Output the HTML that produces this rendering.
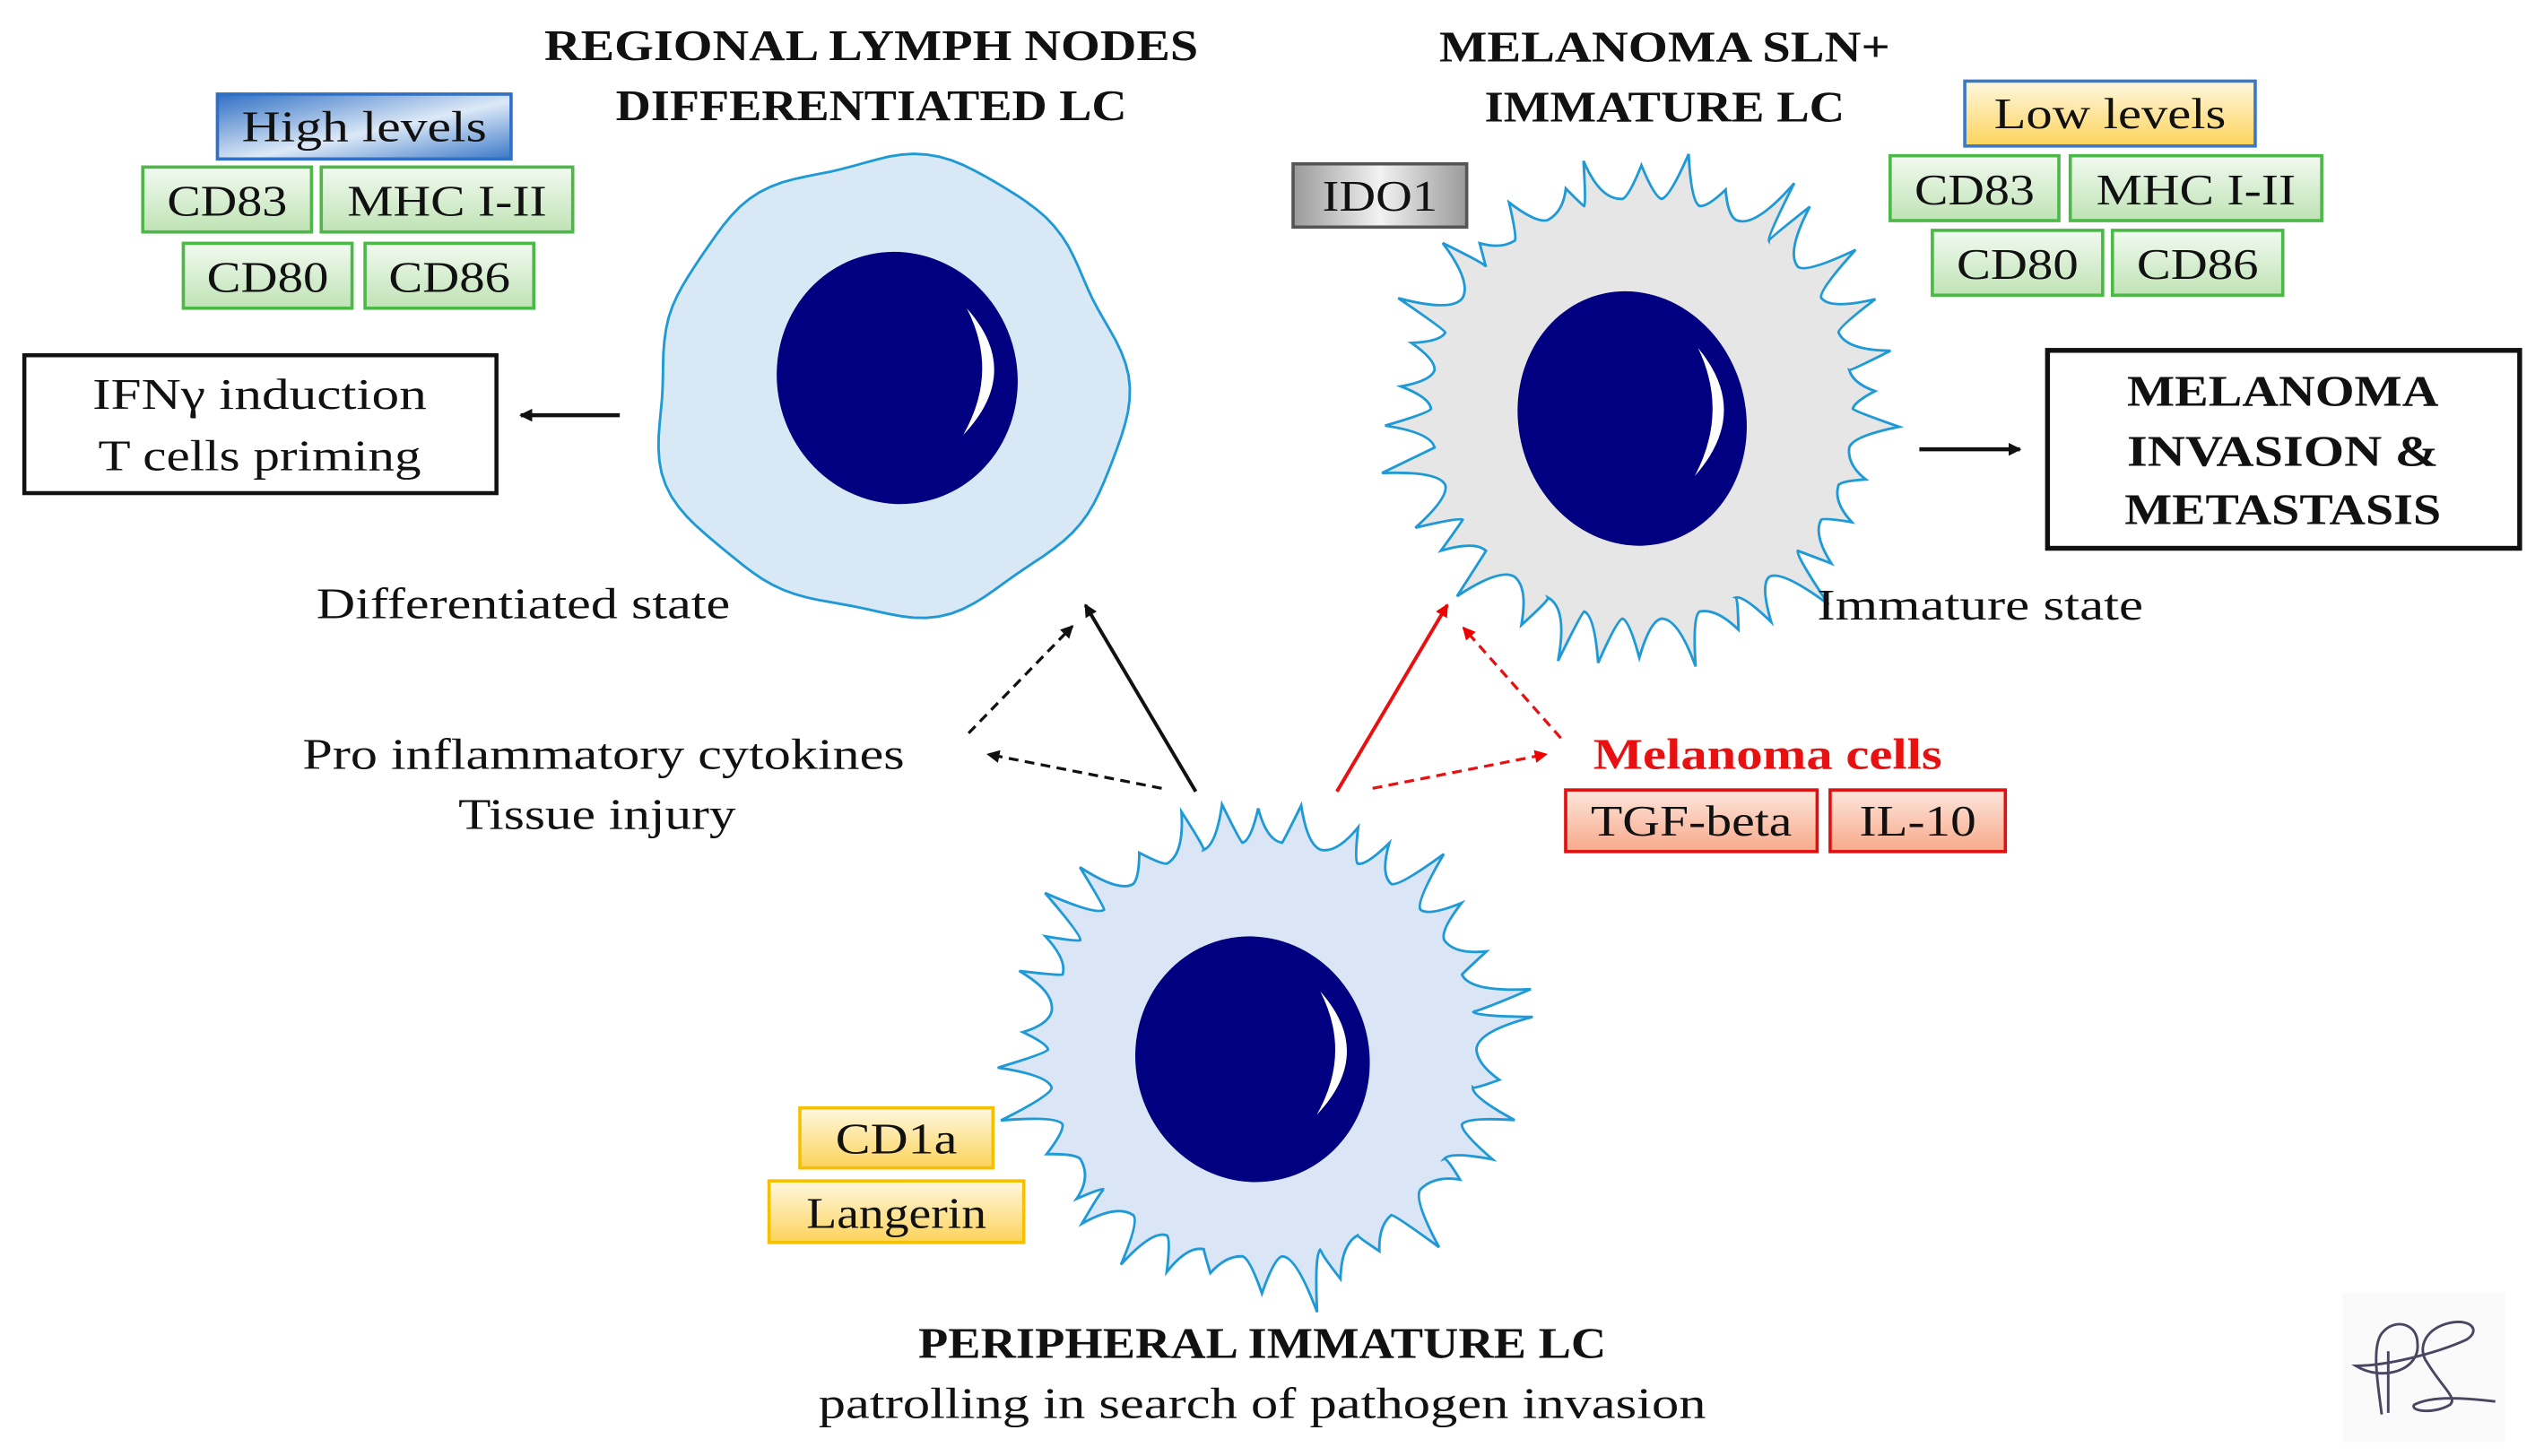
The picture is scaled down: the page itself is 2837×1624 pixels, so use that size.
<!DOCTYPE html>
<html><head><meta charset="utf-8">
<style>
html,body{margin:0;padding:0;background:#fff;}
svg{display:block;}
text{font-family:"Liberation Serif",serif;fill:#111;}
</style></head>
<body>
<svg id="s" width="2837" height="1624" viewBox="0 0 1568 897.6" preserveAspectRatio="none" xmlns="http://www.w3.org/2000/svg">
<defs>
<linearGradient id="gBlue" x1="0" y1="0" x2="1" y2="1"><stop offset="0" stop-color="#2f6fc4"/><stop offset="0.55" stop-color="#dde9f7"/><stop offset="1" stop-color="#3a78c8"/></linearGradient>
<linearGradient id="gGreen" x1="0" y1="0" x2="0" y2="1"><stop offset="0" stop-color="#f2faf0"/><stop offset="1" stop-color="#bfe3b5"/></linearGradient>
<linearGradient id="gYel" x1="0" y1="0" x2="0" y2="1"><stop offset="0" stop-color="#fff8e0"/><stop offset="1" stop-color="#fcd35a"/></linearGradient>
<linearGradient id="gGray" x1="0" y1="0" x2="1" y2="0"><stop offset="0" stop-color="#9a9a9a"/><stop offset="0.5" stop-color="#f2f2f2"/><stop offset="1" stop-color="#9a9a9a"/></linearGradient>
<linearGradient id="gRed" x1="0" y1="0" x2="0" y2="1"><stop offset="0" stop-color="#fde6dc"/><stop offset="1" stop-color="#f7a98a"/></linearGradient>
<marker id="aB" markerWidth="8" markerHeight="8" refX="7" refY="4" orient="auto" markerUnits="userSpaceOnUse"><path d="M0,0 L8,4 L0,8 z" fill="#111"/></marker>
<marker id="aR" markerWidth="8" markerHeight="8" refX="7" refY="4" orient="auto" markerUnits="userSpaceOnUse"><path d="M0,0 L8,4 L0,8 z" fill="#e00"/></marker>
</defs>

<!-- titles -->
<g font-weight="bold" font-size="27" text-anchor="middle" lengthAdjust="spacingAndGlyphs">
<text x="537" y="37" textLength="403" lengthAdjust="spacingAndGlyphs">REGIONAL LYMPH NODES</text>
<text x="537" y="74" textLength="315" lengthAdjust="spacingAndGlyphs">DIFFERENTIATED LC</text>
<text x="1026" y="38" textLength="278" lengthAdjust="spacingAndGlyphs">MELANOMA SLN+</text>
<text x="1026" y="75" textLength="222" lengthAdjust="spacingAndGlyphs">IMMATURE LC</text>
<text x="778" y="837" textLength="424" lengthAdjust="spacingAndGlyphs">PERIPHERAL IMMATURE LC</text>
</g>
<text x="778" y="874" font-size="27" text-anchor="middle" textLength="547" lengthAdjust="spacingAndGlyphs">patrolling in search of pathogen invasion</text>

<!-- marker boxes -->
<g font-size="27" text-anchor="middle">
<rect x="134" y="58" width="181" height="40" fill="url(#gBlue)" stroke="#2f6fc4" stroke-width="2"/><text x="224.5" y="87" textLength="151" lengthAdjust="spacingAndGlyphs">High levels</text>
<rect x="88" y="103" width="104" height="40" fill="url(#gGreen)" stroke="#4cb848" stroke-width="2"/><text x="140" y="133" textLength="74" lengthAdjust="spacingAndGlyphs">CD83</text>
<rect x="198" y="103" width="155" height="40" fill="url(#gGreen)" stroke="#4cb848" stroke-width="2"/><text x="275.5" y="133" textLength="123" lengthAdjust="spacingAndGlyphs">MHC I-II</text>
<rect x="113" y="150" width="104" height="40" fill="url(#gGreen)" stroke="#4cb848" stroke-width="2"/><text x="165" y="180" textLength="75" lengthAdjust="spacingAndGlyphs">CD80</text>
<rect x="225" y="150" width="104" height="40" fill="url(#gGreen)" stroke="#4cb848" stroke-width="2"/><text x="277" y="180" textLength="75" lengthAdjust="spacingAndGlyphs">CD86</text>

<rect x="1211" y="50" width="179" height="40" fill="url(#gYel)" stroke="#3a78c8" stroke-width="2"/><text x="1300.5" y="79" textLength="143" lengthAdjust="spacingAndGlyphs">Low levels</text>
<rect x="1165" y="96" width="104" height="40" fill="url(#gGreen)" stroke="#4cb848" stroke-width="2"/><text x="1217" y="126" textLength="74" lengthAdjust="spacingAndGlyphs">CD83</text>
<rect x="1276" y="96" width="155" height="40" fill="url(#gGreen)" stroke="#4cb848" stroke-width="2"/><text x="1353.5" y="126" textLength="123" lengthAdjust="spacingAndGlyphs">MHC I-II</text>
<rect x="1191" y="142" width="105" height="40" fill="url(#gGreen)" stroke="#4cb848" stroke-width="2"/><text x="1243.5" y="172" textLength="75" lengthAdjust="spacingAndGlyphs">CD80</text>
<rect x="1302" y="142" width="105" height="40" fill="url(#gGreen)" stroke="#4cb848" stroke-width="2"/><text x="1354.5" y="172" textLength="75" lengthAdjust="spacingAndGlyphs">CD86</text>

<rect x="797" y="101" width="107" height="39" fill="url(#gGray)" stroke="#555" stroke-width="2"/><text x="850.5" y="130" textLength="71" lengthAdjust="spacingAndGlyphs">IDO1</text>

<rect x="965" y="487" width="155" height="38" fill="url(#gRed)" stroke="#e01010" stroke-width="2"/><text x="1042.5" y="515" textLength="124" lengthAdjust="spacingAndGlyphs">TGF-beta</text>
<rect x="1128" y="487" width="108" height="38" fill="url(#gRed)" stroke="#e01010" stroke-width="2"/><text x="1182" y="515" textLength="72" lengthAdjust="spacingAndGlyphs">IL-10</text>

<rect x="493" y="683" width="119" height="37" fill="url(#gYel)" stroke="#f5c000" stroke-width="2"/><text x="552.5" y="711" textLength="75" lengthAdjust="spacingAndGlyphs">CD1a</text>
<rect x="474" y="728" width="157" height="38" fill="url(#gYel)" stroke="#f5c000" stroke-width="2"/><text x="552.5" y="757" textLength="111" lengthAdjust="spacingAndGlyphs">Langerin</text>
</g>

<!-- outcome boxes -->
<rect x="15" y="219" width="291" height="85" fill="#fff" stroke="#111" stroke-width="2.5"/>
<g font-size="27" text-anchor="middle"><text x="160" y="252" textLength="206" lengthAdjust="spacingAndGlyphs">IFNγ induction</text><text x="160" y="290" textLength="199" lengthAdjust="spacingAndGlyphs">T cells priming</text></g>
<rect x="1262" y="216" width="291" height="122" fill="#fff" stroke="#111" stroke-width="3"/>
<g font-size="27" font-weight="bold" text-anchor="middle"><text x="1407" y="250" textLength="192" lengthAdjust="spacingAndGlyphs">MELANOMA</text><text x="1407" y="287" textLength="192" lengthAdjust="spacingAndGlyphs">INVASION &amp;</text><text x="1407" y="323" textLength="195" lengthAdjust="spacingAndGlyphs">METASTASIS</text></g>

<!-- labels -->
<text x="195" y="381" font-size="27" textLength="255" lengthAdjust="spacingAndGlyphs">Differentiated state</text>
<g font-size="27" text-anchor="middle"><text x="372" y="474" textLength="371" lengthAdjust="spacingAndGlyphs">Pro inflammatory cytokines</text><text x="368" y="511" textLength="171" lengthAdjust="spacingAndGlyphs">Tissue injury</text></g>
<text x="982" y="474" font-size="27" font-weight="bold" style="fill:#e81010" textLength="215" lengthAdjust="spacingAndGlyphs">Melanoma cells</text>

<!-- cells -->
<g id="cells"></g>
<text x="1120" y="382" font-size="27" textLength="201" lengthAdjust="spacingAndGlyphs">Immature state</text>

<!-- arrows -->
<line x1="382" y1="256" x2="321" y2="256" stroke="#111" stroke-width="2.5" marker-end="url(#aB)"/>
<line x1="1183" y1="277" x2="1245" y2="277" stroke="#111" stroke-width="2.5" marker-end="url(#aB)"/>
<line x1="597" y1="452" x2="661" y2="386" stroke="#111" stroke-width="1.8" stroke-dasharray="6,4" marker-end="url(#aB)"/>
<line x1="737" y1="488" x2="669" y2="373" stroke="#111" stroke-width="2.2" marker-end="url(#aB)"/>
<line x1="716" y1="486" x2="609" y2="465" stroke="#111" stroke-width="1.8" stroke-dasharray="6,4" marker-end="url(#aB)"/>
<line x1="824" y1="488" x2="892" y2="373" stroke="#e81010" stroke-width="2.2" marker-end="url(#aR)"/>
<line x1="962" y1="455" x2="902" y2="387" stroke="#e81010" stroke-width="1.8" stroke-dasharray="6,4" marker-end="url(#aR)"/>
<line x1="846" y1="486" x2="953" y2="465" stroke="#e81010" stroke-width="1.8" stroke-dasharray="6,4" marker-end="url(#aR)"/>

<!-- signature -->
<rect x="1444" y="797" width="100" height="92" fill="#fafafa"/>
<path d="M1468,872 C1465,850 1462,830 1468,822 C1476,812 1490,816 1490,828 C1492,845 1468,852 1452,842 C1470,842 1500,835 1520,826 C1530,820 1522,812 1508,816 C1494,820 1490,832 1496,840 C1505,855 1515,862 1510,866 C1500,872 1485,870 1488,866 C1500,860 1520,862 1538,864 M1472,833 L1472,871" fill="none" stroke="#4a4560" stroke-width="1.6"/>
</svg>
<script>
(function(){
var NS="http://www.w3.org/2000/svg",g=document.getElementById("cells");
function el(t,a){var e=document.createElementNS(NS,t);for(var k in a)e.setAttribute(k,a[k]);g.appendChild(e);return e;}
var seed=7;function rnd(){seed=(seed*9301+49297)%233280;return seed/233280;}
function spiky(cx,cy,rx,ry,n,fill){
  var d="",da=2*Math.PI/n;
  for(var i=0;i<n;i++){
    var a=i*da, h=12+rnd()*26, w=da*(0.18+rnd()*0.15);
    var b0x=cx+rx*Math.cos(a),b0y=cy+ry*Math.sin(a);
    var ta=a+da*0.5+(rnd()-0.5)*da*0.6;
    var tx=cx+(rx+h)*Math.cos(ta),ty=cy+(ry+h)*Math.sin(ta);
    var b1x=cx+rx*Math.cos(a+da),b1y=cy+ry*Math.sin(a+da);
    var c0x=cx+(rx+1)*Math.cos(ta-w),c0y=cy+(ry+1)*Math.sin(ta-w);
    var c1x=cx+(rx+1)*Math.cos(ta+w),c1y=cy+(ry+1)*Math.sin(ta+w);
    if(i==0)d+="M"+b0x.toFixed(1)+","+b0y.toFixed(1);
    d+=" Q"+c0x.toFixed(1)+","+c0y.toFixed(1)+" "+tx.toFixed(1)+","+ty.toFixed(1);
    d+=" Q"+c1x.toFixed(1)+","+c1y.toFixed(1)+" "+b1x.toFixed(1)+","+b1y.toFixed(1);
  }
  el("path",{d:d+"Z",fill:fill,stroke:"#1f9ad6","stroke-width":1.6,"stroke-linejoin":"miter"});
}
function blob(cx,cy,rx,ry,fill){
  var d="",n=120;
  for(var i=0;i<=n;i++){var a=i/n*2*Math.PI;
    var r=1+0.02*Math.sin(5*a+1)+0.015*Math.sin(9*a+2)+0.015*Math.sin(3*a);
    var x=cx+rx*r*Math.cos(a),y=cy+ry*r*Math.sin(a);
    d+=(i?"L":"M")+x.toFixed(1)+","+y.toFixed(1);}
  el("path",{d:d+"Z",fill:fill,stroke:"#1f9ad6","stroke-width":1.6});
}
function nucleus(cx,cy,rx,ry){
  el("ellipse",{cx:cx,cy:cy,rx:rx,ry:ry,fill:"#000080",transform:"rotate(-15 "+cx+" "+cy+")"});
  var x0=cx+rx*0.58,y0=cy-ry*0.55,x1=cx+rx*0.55,y1=cy+ry*0.45;
  el("path",{d:"M"+x0+","+y0+" Q"+(cx+rx*1.05)+","+(cy-ry*0.05)+" "+x1+","+y1+" Q"+(cx+rx*0.85)+","+(cy-ry*0.05)+" "+x0+","+y0+"Z",fill:"#fff"});
}
blob(548,239,144,141,"#d9e8f5");
nucleus(553,233,74,78);
seed=11;spiky(1012,252,130,130,34,"#e6e6e6");
nucleus(1006,258,70,79);
seed=23;spiky(778,647,132,128,34,"#dae6f5");
nucleus(772,653,72,76);
})();
</script>
</body></html>
